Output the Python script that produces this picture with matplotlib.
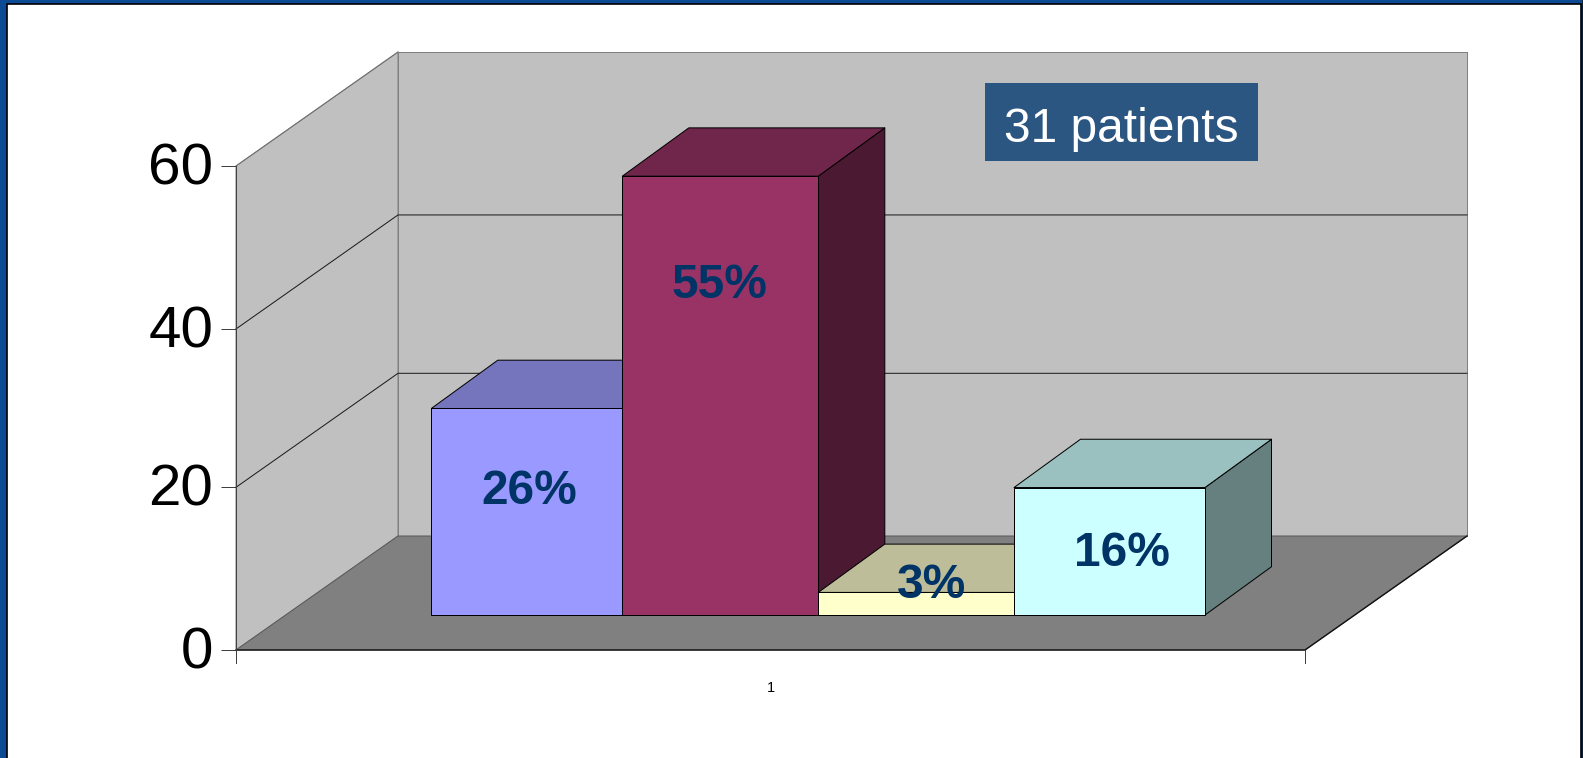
import matplotlib
matplotlib.use("Agg")
import matplotlib.pyplot as plt
from matplotlib.patches import Polygon, Rectangle
from matplotlib.transforms import IdentityTransform, Affine2D

plt.rcParams['font.family'] = ['Liberation Sans', 'DejaVu Sans']

# ---- data ----
categories = ["1"]
series_values = [25.6, 54.4, 2.8, 15.8]
series_labels = ["26%", "55%", "3%", "16%"]
y_ticks = [0, 20.17, 39.8, 60]
y_tick_labels = ["0", "20", "40", "60"]
note_text = "31 patients"

# ---- style / layout ----
front_colors = ["#9999FF", "#993366", "#FFFFCC", "#CCFFFF"]
top_colors = ["#7575BD", "#70264B", "#BDBD99", "#9BC0C0"]
side_colors = ["#4C4C80", "#4B1A32", "#80806A", "#667F7F"]
bar_edges_px = [431.3, 622.3, 818.3, 1014.0, 1205.0]
label_px = [(529.5, 491), (719, 285), (932, 585), (1122, 553)]

W, H = 1583, 758
AX_L, AX_R, AX_T, AX_B = 236, 1305, 166, 650
PX_PER_X = AX_R - AX_L
PX_PER_V = (AX_B - AX_T) / 60
WALL_DX, WALL_DV = 162 / PX_PER_X, 114 / PX_PER_V
BAR_DX, BAR_DV = 66.5 / PX_PER_X, 48.3 / PX_PER_V
BAR_BASE_V = (AX_B - 615) / PX_PER_V


def x_of(px):
    return 0.5 + (px - AX_L) / PX_PER_X


fig = plt.figure(figsize=(W / 100, H / 100), dpi=100, facecolor="#0C4A94")
fig.add_artist(Rectangle((1581.5 / W, 0), 1.5 / W + 1, 1, transform=fig.transFigure,
                         facecolor="#0A1F38", edgecolor="none", zorder=-3))
fig.add_artist(Rectangle((6.5 / W, -0.02), (1581 - 6.5) / W, (H - 4.5) / H + 0.02,
                         transform=fig.transFigure, facecolor="white",
                         edgecolor="black", linewidth=1.2, zorder=-2))

ax = fig.add_axes([AX_L / W, (H - AX_B) / H, (AX_R - AX_L) / W, (AX_B - AX_T) / H])
ax.patch.set_visible(False)
ax.set_xlim(0.5, 1.5)
ax.set_ylim(0, 60)
x0, x1 = 0.5, 1.5
vtop = y_ticks[-1]

grid_lw = 0.72


def poly(points, fc, ec, z, lw=grid_lw):
    ax.add_patch(Polygon(points, closed=True, facecolor=fc, edgecolor=ec,
                         linewidth=lw, zorder=z, clip_on=False, joinstyle="round"))


# walls
poly([(x0, 0), (x0, vtop), (x0 + WALL_DX, vtop + WALL_DV), (x0 + WALL_DX, WALL_DV)],
     "#C0C0C0", "#808080", 1)
poly([(x0 + WALL_DX, WALL_DV), (x0 + WALL_DX, vtop + WALL_DV),
      (x1 + WALL_DX, vtop + WALL_DV), (x1 + WALL_DX, WALL_DV)],
     "#C0C0C0", "#808080", 1)
# floor
poly([(x0, 0), (x1, 0), (x1 + WALL_DX, WALL_DV), (x0 + WALL_DX, WALL_DV)],
     "#808080", "#5A5A5A", 2)
ax.plot([x0, x1, x1 + WALL_DX], [0, 0, WALL_DV], color="#111111", lw=1.0,
        zorder=2.5, clip_on=False)

# gridlines on the walls
for v in y_ticks[1:-1]:
    ax.plot([x0, x0 + WALL_DX, x1 + WALL_DX], [v, v + WALL_DV, v + WALL_DV],
            color="#1A1A1A", lw=grid_lw, zorder=2.2, clip_on=False)
ax.plot([x0, x0 + WALL_DX], [vtop, vtop + WALL_DV], color="#707070", lw=grid_lw,
        zorder=2.2, clip_on=False)

# bars, left to right: each bar overlaps the side of the one before it
for i, val in enumerate(series_values):
    z = 3 + i
    left, right = x_of(bar_edges_px[i]), x_of(bar_edges_px[i + 1])
    base = BAR_BASE_V
    poly([(right, base), (right, base + val), (right + BAR_DX, base + val + BAR_DV),
          (right + BAR_DX, base + BAR_DV)], side_colors[i], "black", z)
    poly([(left, base + val), (right, base + val), (right + BAR_DX, base + val + BAR_DV),
          (left + BAR_DX, base + val + BAR_DV)], top_colors[i], "black", z)
    ax.bar(left, val, width=right - left, bottom=base, align="edge",
           color=front_colors[i], edgecolor="black", linewidth=grid_lw,
           zorder=z + 0.5, clip_on=False)

# axes
ax.spines[["top", "right"]].set_visible(False)
ax.spines["left"].set_color("#404040")
ax.spines["left"].set_linewidth(grid_lw)
ax.spines["left"].set_zorder(2.6)
ax.spines["bottom"].set_visible(False)
ax.set_yticks(y_ticks, y_tick_labels)
ax.set_xticks([1.0], categories)
ax.tick_params(axis="y", length=10.8, width=grid_lw, color="#404040", pad=5.5, labelsize=42)
ax.tick_params(axis="x", length=0, pad=22, labelsize=10.5)
for lab in ax.get_yticklabels():
    lab.set_transform(lab.get_transform() + Affine2D().translate(0, 2.5))
ax.plot([x0, x0], [0, -13 / PX_PER_V], color="#404040", lw=grid_lw, clip_on=False, zorder=2.6)
ax.plot([x1, x1], [0, -13 / PX_PER_V], color="#404040", lw=grid_lw, clip_on=False, zorder=2.6)

# value labels
for (px, py), s in zip(label_px, series_labels):
    fig.text(px, H - py, s, transform=IdentityTransform(), ha="center", va="center",
             fontsize=34.5, fontweight="bold", color="#003366", zorder=20)

# note box
fig.add_artist(Rectangle((985 / W, (H - 160.7) / H), 272.7 / W, 77.7 / H,
                         transform=fig.transFigure, facecolor="#2C5682",
                         edgecolor="none", zorder=15))
fig.text(1121, H - 129, note_text, transform=IdentityTransform(), ha="center",
         va="center", fontsize=34.5, color="white", zorder=20)

fig.savefig("out.png", dpi=100, facecolor=fig.get_facecolor())
